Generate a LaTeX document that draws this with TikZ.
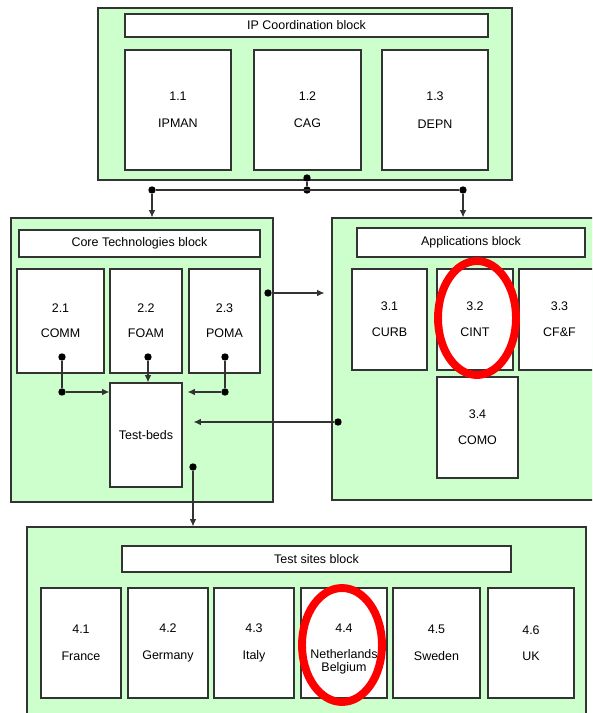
\documentclass[tikz,border=0pt]{standalone}
\usepackage{fontspec}
\setmainfont{Liberation Sans}
\usetikzlibrary{arrows.meta,shapes.geometric}
\definecolor{blockgreen}{RGB}{204,255,204}
\definecolor{edgegray}{RGB}{51,51,51}

\tikzset{
  block/.style={draw=edgegray, fill=blockgreen, line width=0.7pt, inner sep=0pt},
  title/.style={draw=edgegray, fill=white, line width=0.7pt, inner sep=0pt},
  wp/.style={draw=edgegray, fill=white, line width=0.7pt, inner sep=0pt, align=center},
  dot/.style={circle, fill=black, inner sep=0pt, minimum size=4.2pt},
  conn/.style={draw=edgegray, line width=0.6pt},
  arr/.style={conn, -{Latex[length=4.2pt,width=3.8pt]}},
  hilite/.style={ellipse, draw=red, line width=4.5pt, inner sep=0pt}
}

\begin{document}
\begin{tikzpicture}[x=0.02cm, y=-0.02cm, font=\fontsize{7.1}{7.6}\selectfont]
\useasboundingbox (0,0) rectangle (592,713);
\clip (0,0) rectangle (592,713);

% the four blocks
\node[block, minimum width=8.28cm, minimum height=3.44cm] (IP) at (305,94) {};
\node[block, minimum width=5.24cm, minimum height=5.68cm] (CORE) at (142,360) {};
\node[block, minimum width=5.36cm, minimum height=5.64cm] (APP) at (466,359) {};
\node[block, minimum width=11.18cm, minimum height=3.86cm] (SITE) at (306.5,623.5) {};

% block titles
\node[title, minimum width=7.26cm, minimum height=0.46cm] (IPT) at (306.5,25.5) {IP Coordination block};
\node[title, minimum width=4.82cm, minimum height=0.54cm] (CORET) at (139.5,243.5) {Core Technologies block};
\node[title, minimum width=4.56cm, minimum height=0.58cm] (APPT) at (471,242.5) {Applications block};
\node[title, minimum width=7.78cm, minimum height=0.52cm] (SITET) at (316.5,559) {Test sites block};

% IP coordination
\node[wp, minimum width=2.12cm, minimum height=2.4cm] (W11) at (178,110) {1.1\\[8pt]IPMAN};
\node[wp, minimum width=2.14cm, minimum height=2.4cm] (W12) at (307.5,110) {1.2\\[8pt]CAG};
\node[wp, minimum width=2.12cm, minimum height=2.4cm] (W13) at (435,110) {1.3\\[8pt]DEPN};

% core technologies
\node[wp, minimum width=1.74cm, minimum height=2.08cm] (W21) at (60.5,321) {2.1\\[6.5pt]COMM};
\node[wp, minimum width=1.44cm, minimum height=2.08cm] (W22) at (146,321) {2.2\\[6.5pt]FOAM};
\node[wp, minimum width=1.42cm, minimum height=2.08cm] (W23) at (224.5,321) {2.3\\[6.5pt]POMA};
\node[wp, minimum width=1.44cm, minimum height=2.08cm] (TB) at (146,435) {Test-beds};

% applications
\node[wp, minimum width=1.5cm, minimum height=2.02cm] (W31) at (389.5,319.5) {3.1\\[7pt]CURB};
\node[wp, minimum width=1.52cm, minimum height=2.02cm] (W32) at (475,319.5) {3.2\\[7pt]CINT};
\node[wp, minimum width=1.62cm, minimum height=2.02cm] (W33) at (559.5,319.5) {3.3\\[7pt]CF\&F};
\node[wp, minimum width=1.62cm, minimum height=2.02cm] (W34) at (477.5,427.5) {3.4\\[7pt]COMO};

% test sites
\node[wp, minimum width=1.6cm, minimum height=2.2cm] (W41) at (81,643) {4.1\\[7.5pt]France};
\node[wp, minimum width=1.6cm, minimum height=2.2cm] (W42) at (168,643) {4.2\\[7.5pt]Germany};
\node[wp, minimum width=1.6cm, minimum height=2.2cm] (W43) at (254,643) {4.3\\[7.5pt]Italy};
\node[wp, minimum width=1.72cm, minimum height=2.2cm] (W44) at (344,643) {};
\node[align=center, inner sep=0pt] (W44L) at (344,649) {4.4\\[7.5pt]Netherlands\\Belgium};
\node[wp, minimum width=1.74cm, minimum height=2.2cm] (W45) at (436.5,643) {4.5\\[7.5pt]Sweden};
\node[wp, minimum width=1.72cm, minimum height=2.2cm] (W46) at (531,643) {4.6\\[7.5pt]UK};

% junction dots
\node[dot] (D0) at (307,178) {};
\node[dot] (D1) at (307,190) {};
\node[dot] (D2) at (152,190) {};
\node[dot] (D3) at (463,190) {};
\node[dot] (C1) at (268,293) {};
\node[dot] (E1) at (62,357) {};
\node[dot] (E2) at (62,392) {};
\node[dot] (F1) at (148,357) {};
\node[dot] (G1) at (225,357) {};
\node[dot] (G2) at (225,392) {};
\node[dot] (A1) at (338,422) {};
\node[dot] (T1) at (193,467) {};

\path[conn] (D0) -- (D1) (D2) -- (D3);
\path[arr] (D2) -- (D2 |- CORE.north);
\path[arr] (D3) -- (D3 |- APP.north);
\path[arr, shorten >=0.14cm] (C1) -- (C1 -| APP.west);
\path[conn] (E1) -- (E2) (G1) -- (G2);
\path[arr] (E2) -- (E2 -| TB.west);
\path[arr] (F1) -- (F1 |- TB.north);
\path[arr, shorten >=0.1cm] (G2) -- (G2 -| TB.east);
\path[arr, shorten >=0.22cm] (A1) -- (A1 -| TB.east);
\path[arr] (T1) -- (T1 |- SITE.north);

% red marks
\node[hilite, minimum width=1.56cm, minimum height=2.28cm] (H32) at (477,318) {};
\node[hilite, minimum width=1.6cm, minimum height=2.28cm] (H44) at (342,645) {};
\end{tikzpicture}
\end{document}
